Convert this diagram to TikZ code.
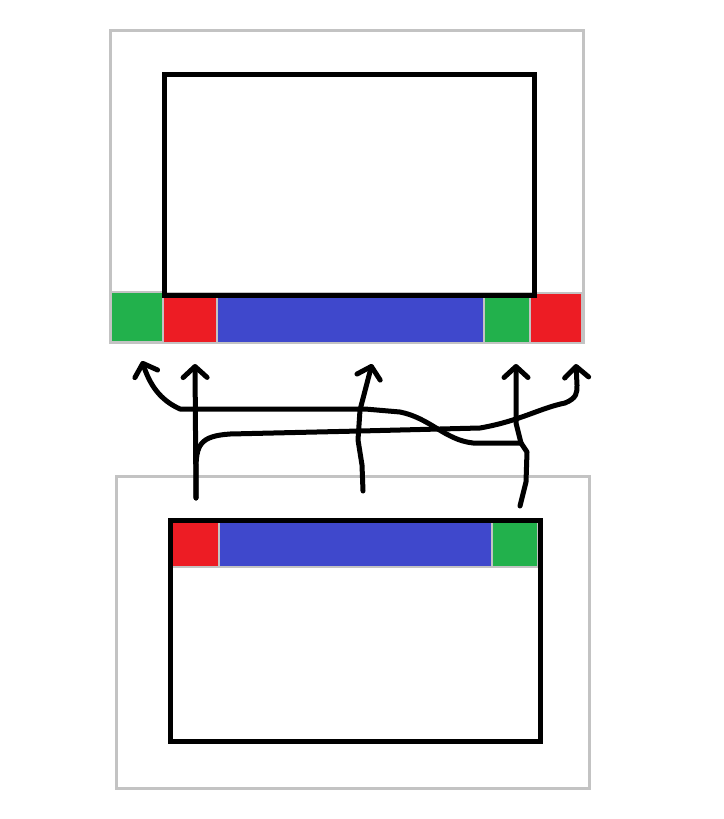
\documentclass[tikz,border=0pt]{standalone}
\usetikzlibrary{arrows.meta}
\definecolor{pgreen}{HTML}{22B14C}
\definecolor{pred}{HTML}{ED1C24}
\definecolor{pblue}{HTML}{3F48CC}
\definecolor{pgray}{HTML}{C3C3C3}
\begin{document}
\begin{tikzpicture}[x=1pt,y=-1pt,
  frame/.style={draw=pgray,line width=3pt},
  box/.style={draw=black,line width=5pt},
  seg/.style={draw=pgray,line width=2pt,inner sep=0pt,minimum height=#1},
  seg/.default=50pt,
  stroke/.style={line width=5pt,line cap=round,line join=round},
  arr/.style={stroke,-{Straight Barb[length=11pt,width=24pt,round]}}]
\useasboundingbox (0,0) rectangle (723,819);
% top frame
\draw[frame] (110,30) rectangle (583,342);
\node[seg,fill=pgreen,minimum width=52pt] (tg1) at (137,317) {};
\node[seg,fill=pred,minimum width=54pt] (tr1) at (190,318) {};
\node[seg,fill=pblue,minimum width=267pt] (tb) at (350.5,318) {};
\node[seg,fill=pgreen,minimum width=46pt] (tg2) at (507,318) {};
\node[seg,fill=pred,minimum width=52pt] (tr2) at (556,318) {};
\draw[box] (164,74) rectangle (534,295);
% bottom frame
\draw[frame] (116,476) rectangle (589,788);
\node[seg=45pt,fill=pred,minimum width=47pt] (br) at (195.5,544.5) {};
\node[seg=45pt,fill=pblue,minimum width=273pt] (bb) at (355.5,544.5) {};
\node[seg=45pt,fill=pgreen,minimum width=46pt] (bg) at (515,544.5) {};
\draw[box] (170,520) rectangle (540,741);
% arrow ends
\coordinate (sR) at (196,498);
\coordinate (sB) at (363,491);
\coordinate (sG) at (520,506);
\coordinate (eG1) at (142,361);
\coordinate (eR1) at (195,364);
\coordinate (eB) at (372,364);
\coordinate (eG2) at (516,364);
\coordinate (eR2) at (576,364);
\coordinate (jG) at (521,443);
% arrows
\draw[arr] (sR) -- (eR1);
\draw[arr] (sR) -- (196,470) .. controls (196,445) and (200,436) .. (230,434)
  -- (360,431) -- (480,428) .. controls (520,421) and (540,408) .. (565,403)
  .. controls (577,398) and (577,393) .. (577,385) -- (eR2);
\draw[arr] (sB) -- (362,465) -- (358,440) -- (360,410) -- (eB);
\draw[stroke] (sG) -- (526,482) -- (527,452) -- (jG);
\draw[arr] (jG) -- (516,423) -- (eG2);
\draw[arr] (jG) -- (473,443) .. controls (445,440) and (430,418) .. (400,412)
  -- (365,409) -- (180,409) .. controls (160,400) and (150,385) .. (eG1);
\end{tikzpicture}
\end{document}
